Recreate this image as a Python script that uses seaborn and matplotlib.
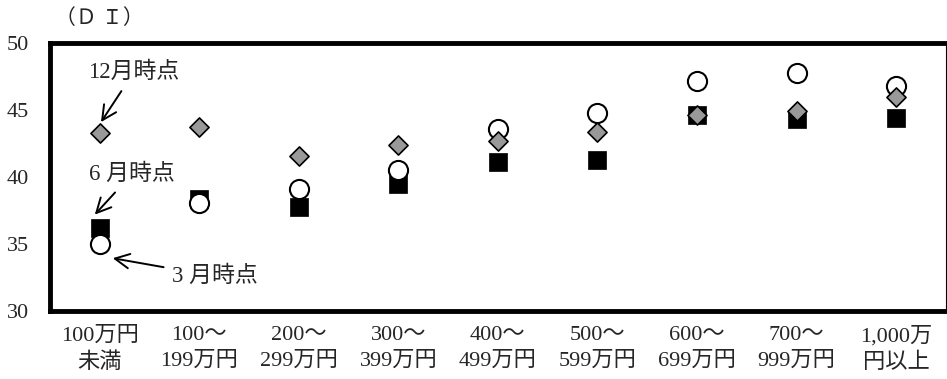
import matplotlib
matplotlib.use("Agg")
import matplotlib.pyplot as plt
import seaborn as sns
import pandas as pd

categories = ["100万円\n未満", "100～\n199万円", "200～\n299万円", "300～\n399万円",
              "400～\n499万円", "500～\n599万円", "600～\n699万円", "700～\n999万円",
              "1,000万\n円以上"]
mar = [35.0, 38.1, 39.1, 40.5, 43.6, 44.8, 47.2, 47.8, 46.8]   # 3月時点
jun = [36.2, 38.4, 37.8, 39.5, 41.1, 41.3, 44.6, 44.3, 44.4]   # 6月時点
dec = [43.3, 43.7, 41.6, 42.4, 42.7, 43.4, 44.6, 44.9, 46.0]   # 12月時点
yticks = [30, 35, 40, 45, 50]

sns.set_style("white")
fonts = ["Liberation Serif", "Noto Sans CJK JP", "DejaVu Sans"]
plt.rcParams["font.family"] = fonts

df = pd.DataFrame({"cat": categories, "mar": mar, "jun": jun, "dec": dec})

fig = plt.figure(figsize=(9.47, 3.79), dpi=100)
ax = fig.add_axes([0.0528, 0.179, 0.946, 0.7075])

sns.scatterplot(data=df, x="cat", y="jun", marker="s", s=175, color="black",
                edgecolor="black", linewidth=0.5, ax=ax, zorder=3)
sns.scatterplot(data=df, x="cat", y="mar", marker="o", s=190, color="white",
                edgecolor="black", linewidth=1.5, ax=ax, zorder=4)
sns.scatterplot(data=df, x="cat", y="dec", marker="D", s=95, color="#999999",
                edgecolor="black", linewidth=1.2, ax=ax, zorder=5)

ax.set_xlim(-0.5, len(categories) - 0.5)
ax.set_ylim(30, 50)
ax.set_yticks(yticks)
ax.set_xlabel("")
ax.set_ylabel("")
ax.tick_params(axis="y", direction="in", length=5, width=1, labelsize=16, pad=15)
ax.tick_params(axis="x", length=0, labelsize=16, pad=11)
for lab in ax.get_xticklabels():
    lab.set_linespacing(1.4)

for side in ["left", "top", "bottom"]:
    ax.spines[side].set_linewidth(3.5)
    ax.spines[side].set_color("black")
ax.spines["right"].set_linewidth(0.8)
ax.spines["right"].set_color("black")

fig.text(0.058, 0.95, "（Ｄ Ｉ）", fontsize=15, va="center", ha="left")

arrow = dict(arrowstyle="->", color="black", lw=1.4, mutation_scale=26, shrinkA=4, shrinkB=0)
ax.annotate("12月時点", xy=(0.012, 44.1), xytext=(0.34, 47.8), ha="center", va="center",
            fontsize=16.5, arrowprops=arrow)
ax.annotate("6 月時点", xy=(-0.05, 37.2), xytext=(0.32, 40.2), ha="center", va="center",
            fontsize=16.5, arrowprops=arrow)
ax.annotate("3 月時点", xy=(0.13, 33.95), xytext=(1.16, 32.6), ha="center", va="center",
            fontsize=16.5, arrowprops=arrow)

fig.savefig("out.png", dpi=100)
